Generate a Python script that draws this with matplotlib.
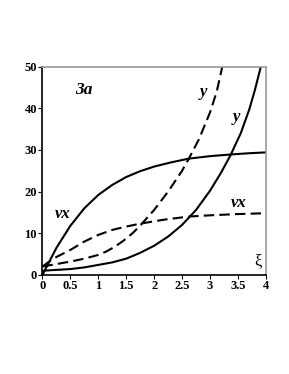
import matplotlib
matplotlib.use("Agg")
import matplotlib.pyplot as plt

# Data
vx_solid_x = [0, 0.25, 0.5, 0.75, 1.0, 1.25, 1.5, 1.75, 2.0, 2.3, 2.62, 3.0, 3.37, 3.7, 4.0]
vx_solid_y = [0, 6.5, 11.8, 16.0, 19.2, 21.6, 23.5, 24.9, 26.0, 27.0, 27.9, 28.5, 28.9, 29.2, 29.4]

y_solid_x = [0, 0.25, 0.5, 0.75, 1.0, 1.25, 1.5, 1.75, 2.0, 2.25, 2.5, 2.75, 3.0, 3.2, 3.37, 3.55, 3.7, 3.8, 3.91]
y_solid_y = [1, 1.2, 1.4, 1.8, 2.4, 3.0, 3.9, 5.3, 7.0, 9.2, 12.0, 15.6, 20.2, 24.6, 28.8, 34.0, 39.6, 44.2, 50]

vx_dash_x = [0, 0.1, 0.25, 0.5, 0.75, 1.0, 1.25, 1.5, 1.75, 2.2, 2.62, 3.0, 3.5, 4.0]
vx_dash_y = [2, 3.0, 4.3, 6.0, 8.0, 9.6, 10.8, 11.6, 12.3, 13.3, 14.0, 14.3, 14.6, 14.8]

y_dash_x = [0, 0.25, 0.5, 0.75, 1.0, 1.14, 1.3, 1.45, 1.63, 1.78, 2.0, 2.25, 2.5, 2.62, 2.8, 3.0, 3.12, 3.22]
y_dash_y = [2, 2.6, 3.2, 3.9, 4.8, 5.6, 6.8, 8.2, 10.2, 12.3, 15.6, 20.0, 25.0, 27.9, 32.5, 39.0, 44.0, 50]

xticks = [0, 0.5, 1, 1.5, 2, 2.5, 3, 3.5, 4]
xtick_labels = ["0", "0.5", "1", "1.5", "2", "2.5", "3", "3.5", "4"]
yticks = [0, 10, 20, 30, 40, 50]
ytick_labels = ["0", "10", "20", "30", "40", "50"]

serif = "Liberation Serif"

fig = plt.figure(figsize=(2.89, 3.74), dpi=100)
ax = fig.add_axes([0.147, 0.265, 0.773, 0.557])

lw = 1.5
dash = (5, 2.5)
ax.plot(vx_solid_x, vx_solid_y, color="black", lw=lw)
ax.plot(y_solid_x, y_solid_y, color="black", lw=lw)
ax.plot(vx_dash_x, vx_dash_y, color="black", lw=lw, linestyle=(0, dash))
ax.plot(y_dash_x, y_dash_y, color="black", lw=lw, linestyle=(0, dash))

ax.set_xlim(0, 4)
ax.set_ylim(0, 50)
ax.set_xticks(xticks)
ax.set_xticklabels(xtick_labels)
ax.set_yticks(yticks)
ax.set_yticklabels(ytick_labels)

for lab in ax.get_xticklabels() + ax.get_yticklabels():
    lab.set_fontfamily(serif)
    lab.set_fontweight("bold")
    lab.set_fontsize(9)

ax.tick_params(direction="out", length=3, width=0.8, pad=1, top=False, right=False)
ax.spines["left"].set_color("black")
ax.spines["bottom"].set_color("black")
ax.spines["top"].set_color("#999999")
ax.spines["right"].set_color("#999999")
for s in ax.spines.values():
    s.set_linewidth(1.2)

tkw = dict(fontfamily=serif, fontweight="bold", fontstyle="italic", ha="center", va="center")
ax.text(0.75, 44.3, "3a", fontsize=12.5, **tkw)
ax.text(2.88, 43.8, "y", fontsize=12, **tkw)
ax.text(3.47, 38.0, "y", fontsize=12, **tkw)
ax.text(3.52, 17.2, "vx", fontsize=12, **tkw)
ax.text(0.36, 14.5, "vx", fontsize=12, **tkw)
ax.text(3.85, 3.2, "ξ", fontsize=12, fontfamily=serif, ha="center", va="center")

fig.savefig("out.png", dpi=100)
